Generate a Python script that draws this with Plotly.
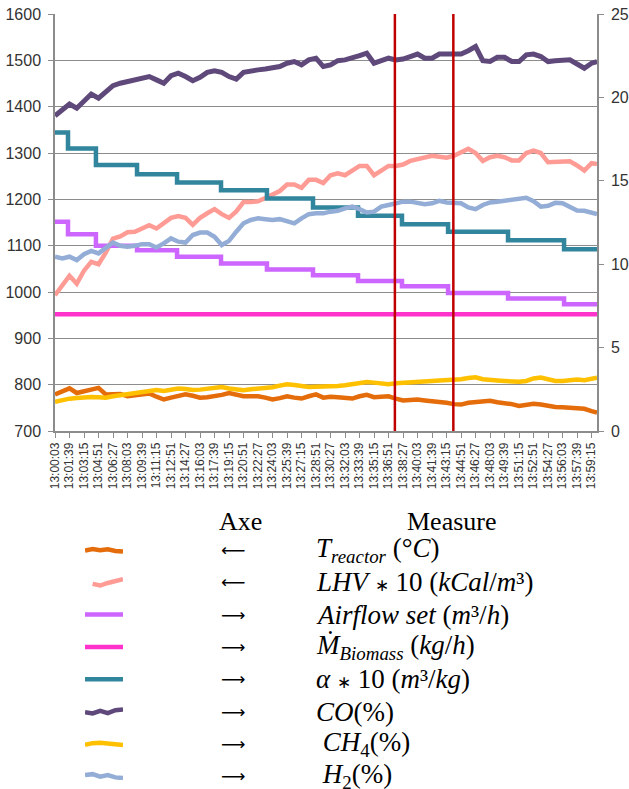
import plotly.graph_objects as go

# ---------------- data ----------------
tick_labels = ["13:00:03", "13:01:39", "13:03:15", "13:04:51", "13:06:27", "13:08:03", "13:09:39",
               "13:11:15", "13:12:51", "13:14:27", "13:16:03", "13:17:39", "13:19:15", "13:20:51",
               "13:22:27", "13:24:03", "13:25:39", "13:27:15", "13:28:51", "13:30:27", "13:32:03",
               "13:33:39", "13:35:15", "13:36:51", "13:38:27", "13:40:03", "13:41:39", "13:43:15",
               "13:44:51", "13:46:27", "13:48:03", "13:49:39", "13:51:15", "13:52:51", "13:54:27",
               "13:56:03", "13:57:39", "13:59:15"]
tick_step_s = 96
sample_times = list(range(0, 3553, 48)) + [3588]   # seconds after 13:00:03

t_reactor = [779, 786, 792, 782, 786, 790, 793, 779, 779, 780,
             775, 777, 780, 781, 774, 768, 772, 775, 779, 776,
             772, 773, 775, 778, 782, 778, 775, 775, 775, 772,
             768, 771, 775, 772, 770, 775, 779, 772, 774, 773,
             772, 770, 775, 778, 773, 774, 775, 770, 766, 767,
             768, 766, 765, 763, 761, 758, 757, 761, 762, 764,
             765, 762, 761, 758, 754, 757, 759, 757, 754, 752,
             751, 750, 750, 748, 743, 740]
lhv10 = [993, 1015, 1035, 1018, 1046, 1065, 1060, 1085, 1115, 1120,
         1129, 1130, 1138, 1144, 1137, 1150, 1160, 1164, 1160, 1145,
         1160, 1170, 1179, 1168, 1160, 1174, 1194, 1194, 1196, 1203,
         1210, 1218, 1232, 1232, 1225, 1242, 1242, 1235, 1252, 1256,
         1252, 1262, 1272, 1272, 1252, 1262, 1272, 1272, 1275, 1283,
         1286, 1290, 1294, 1292, 1290, 1294, 1302, 1309, 1300, 1283,
         1291, 1294, 1291, 1284, 1284, 1300, 1305, 1300, 1280, 1281,
         1282, 1282, 1273, 1262, 1278, 1276]
co = [18.9, 19.3, 19.6, 19.35, 19.8, 20.2, 19.95, 20.3, 20.7, 20.85,
      20.95, 21.0, 21.1, 21.25, 21.05, 20.85, 21.3, 21.45, 21.25, 21.0,
      21.2, 21.5, 21.6, 21.5, 21.25, 21.1, 21.5, 21.6, 21.65, 21.7,
      21.75, 21.85, 22.05, 22.15, 21.95, 22.25, 22.35, 21.85, 21.95, 22.2,
      22.25, 22.35, 22.5, 22.65, 22.05, 22.2, 22.35, 22.25, 22.3, 22.45,
      22.6, 22.35, 22.35, 22.6, 22.6, 22.55, 22.6, 22.8, 23.05, 22.2,
      22.15, 22.4, 22.4, 22.15, 22.15, 22.55, 22.6, 22.45, 22.15, 22.2,
      22.25, 22.25, 22.0, 21.75, 22.05, 22.15]
ch4 = [1.75, 1.85, 1.94, 1.98, 2.02, 2.04, 2.03, 2.0, 2.08, 2.15,
       2.22, 2.28, 2.36, 2.45, 2.46, 2.4, 2.48, 2.55, 2.52, 2.46,
       2.48, 2.55, 2.62, 2.64, 2.55, 2.47, 2.45, 2.5, 2.54, 2.56,
       2.62, 2.72, 2.8, 2.76, 2.68, 2.64, 2.66, 2.66, 2.64, 2.7,
       2.74, 2.8, 2.86, 2.93, 2.9, 2.84, 2.8, 2.86, 2.9, 2.93,
       2.94, 2.97, 3.0, 3.03, 3.04, 3.05, 3.1, 3.18, 3.22, 3.1,
       3.04, 3.03, 3.0, 2.98, 2.95, 3.0, 3.15, 3.2, 3.1, 3.0,
       3.0, 3.05, 3.08, 3.05, 3.12, 3.2]
h2 = [10.45, 10.35, 10.45, 10.25, 10.6, 10.8, 10.65, 10.95, 11.3, 11.1,
      11.05, 11.1, 11.2, 11.2, 11.0, 11.25, 11.55, 11.35, 11.3, 11.75,
      11.9, 11.9, 11.65, 11.15, 11.4, 11.95, 12.45, 12.65, 12.75, 12.7,
      12.65, 12.7, 12.6, 12.45, 12.75, 13.0, 13.05, 13.05, 13.15, 13.2,
      13.35, 13.45, 13.3, 13.1, 13.15, 13.45, 13.55, 13.65, 13.75, 13.75,
      13.65, 13.6, 13.65, 13.8, 13.7, 13.65, 13.65, 13.4, 13.3, 13.55,
      13.7, 13.75, 13.8, 13.82, 13.9, 13.98, 13.78, 13.45, 13.5, 13.68,
      13.65, 13.45, 13.22, 13.2, 13.1, 13.0]

step_times = [0, 86, 271, 543, 808, 1099, 1403, 1708, 2006, 2297, 2602, 2999, 3370, 3588]
airflow_set = [12.55, 11.8, 11.1, 10.84, 10.44, 10.04, 9.68, 9.34, 9.0, 8.68, 8.28, 7.94, 7.6, 7.6]
alpha10 = [17.9, 16.94, 15.94, 15.4, 14.9, 14.44, 13.94, 13.4, 12.9, 12.4, 11.94, 11.44, 10.9, 10.9]
biomass_times = [0, 3588]
biomass = [7.0, 7.0]

measure_window = [2250, 2637]

# legend table
AST = "<span style='font-size:17px'>∗</span>"
legend_labels = [
    "<i>T</i><sub><i>reactor</i></sub> (°<i>C</i>)",
    "<i>LHV</i> " + AST + " 10 (<i>kCal</i>/<i>m</i>³)",
    "<i>Airflow set</i> (<i>m</i>³/<i>h</i>)",
    "<i>Ṁ</i><sub><i>Biomass</i></sub> (<i>kg</i>/<i>h</i>)",
    "<i>α</i> " + AST + " 10 (<i>m</i>³/<i>kg</i>)",
    "<i>CO</i>(%)",
    " <i>CH</i><sub>4</sub>(%)",
    " <i>H</i><sub>2</sub>(%)",
]
legend_arrows = ["⟵", "⟵", "⟶", "⟶", "⟶", "⟶", "⟶", "⟶"]
swatch_x = [0, 0.2, 0.4, 0.6, 0.8, 1.0]
swatch_t = [0.02, -0.03, 0.01, -0.02, 0.03, 0.05]
swatch_lhv = [None, 0.05, 0.1, 0.02, -0.05, -0.1]
swatch_flat = [0, 0, 0, 0, 0, 0]
swatch_co = [0.02, 0.06, -0.02, 0.05, -0.04, -0.06]
swatch_ch4 = [0.03, -0.02, -0.03, 0.0, 0.02, 0.04]
swatch_h2 = [-0.03, -0.06, 0.02, -0.03, 0.04, 0.06]

# ---------------- styles ----------------
C_T = "#E46C0A"
C_LHV = "#FF9B95"
C_AIR = "#CC66FF"
C_BIO = "#FF33CC"
C_ALPHA = "#31859C"
C_CO = "#5F497A"
C_CH4 = "#FFC000"
C_H2 = "#93ADD6"
GRID = "#8C8C8C"

# page-pixel -> paper helpers (effective paper area: y 14..780)
PB, PH = 780.0, 766.0
def py(p):
    return (PB - p) / PH
def px(p):
    return (p - 55) / 542

fig = go.Figure()

def add_line(x, y, color, axis, width=4.5, shape="linear"):
    fig.add_trace(go.Scatter(x=x, y=y, mode="lines", yaxis=axis,
                             line=dict(color=color, width=width, shape=shape),
                             showlegend=False, hoverinfo="skip"))

add_line(sample_times, t_reactor, C_T, "y")
add_line(sample_times, lhv10, C_LHV, "y")
add_line(step_times, airflow_set, C_AIR, "y2", shape="hv")
add_line(biomass_times, biomass, C_BIO, "y2")
add_line(step_times, alpha10, C_ALPHA, "y2", shape="hv")
add_line(sample_times, co, C_CO, "y2", width=5)
add_line(sample_times, ch4, C_CH4, "y2")
add_line(sample_times, h2, C_H2, "y2")

for xv in measure_window:
    fig.add_shape(type="line", xref="x", yref="y domain", x0=xv, x1=xv, y0=0, y1=1,
                  line=dict(color="#C00000", width=2.5))

# legend swatches
swatch_sets = [(swatch_t, C_T), (swatch_lhv, C_LHV), (swatch_flat, C_AIR), (swatch_flat, C_BIO),
               (swatch_flat, C_ALPHA), (swatch_co, C_CO), (swatch_ch4, C_CH4), (swatch_h2, C_H2)]
for row, (wig, col) in enumerate(swatch_sets):
    ys = [None if w is None else row + w for w in wig]
    fig.add_trace(go.Scatter(x=swatch_x, y=ys, mode="lines", xaxis="x3", yaxis="y3",
                             line=dict(color=col, width=4.5), showlegend=False,
                             hoverinfo="skip", connectgaps=False))

tick_font = dict(family="Liberation Sans, Arial", size=16, color="#333333")
ann = []
ann.append(dict(x=px(240), y=py(521), xref="paper", yref="paper",
                text="Axe", showarrow=False, xanchor="center", yanchor="middle",
                font=dict(family="Liberation Serif, Times New Roman", size=26, color="black")))
ann.append(dict(x=px(452), y=py(521), xref="paper", yref="paper",
                text="Measure", showarrow=False, xanchor="center", yanchor="middle",
                font=dict(family="Liberation Serif, Times New Roman", size=26, color="black")))
for row, (arr, lab) in enumerate(zip(legend_arrows, legend_labels)):
    ann.append(dict(x=px(233), y=row, xref="paper", yref="y3", text=arr,
                    showarrow=False, xanchor="center", yanchor="middle",
                    font=dict(family="DejaVu Sans", size=17, color="black")))
    ann.append(dict(x=px(314), y=row, xref="paper", yref="y3", text=lab,
                    showarrow=False, xanchor="left", yanchor="middle",
                    font=dict(family="Liberation Serif, Times New Roman", size=27, color="black")))

# legend rows: row 0 at page y 550, spacing 32.3 px
row0, rowh = 550.0, 32.3
y3_top, y3_bot = 534.0, PB

fig.update_layout(
    width=629, height=789,
    margin=dict(l=55, r=32, t=14, b=0),
    plot_bgcolor="white", paper_bgcolor="white",
    xaxis=dict(domain=[0, 1], range=[0, 3588], anchor="y",
               tickvals=[i * tick_step_s for i in range(len(tick_labels))], ticktext=tick_labels,
               tickangle=-90, ticks="outside", ticklen=5, tickcolor=GRID, tickwidth=1.3,
               showline=True, linecolor=GRID, linewidth=1.5, showgrid=False, zeroline=False,
               tickfont=dict(family="Liberation Sans, Arial", size=12, color="#333333")),
    yaxis=dict(domain=[py(431), 1], range=[700, 1600], dtick=100, anchor="x",
               showgrid=True, gridcolor=GRID, gridwidth=1.4, zeroline=False,
               showline=True, linecolor=GRID, linewidth=1.5, ticks="outside", ticklen=5,
               tickcolor=GRID, tickfont=tick_font, ticklabelstandoff=4),
    yaxis2=dict(overlaying="y", side="right", range=[0, 25], dtick=5, anchor="x",
                showgrid=False, zeroline=False, showline=True, linecolor=GRID, linewidth=1.5,
                ticks="outside", ticklen=5, tickcolor=GRID, tickfont=tick_font,
                ticklabelstandoff=4),
    xaxis3=dict(domain=[px(85), px(123)], range=[0, 1], anchor="y3", visible=False),
    yaxis3=dict(domain=[py(y3_bot), py(y3_top)],
                range=[(y3_bot - row0) / rowh, (y3_top - row0) / rowh],
                anchor="x3", visible=False),
    annotations=ann,
)

fig.write_html(
    "out.html",
    config={"displayModeBar": False},
    post_script=("document.documentElement.style.margin='0px';"
                 "document.documentElement.style.overflow='hidden';"
                 "document.documentElement.style.height='789px';"
                 "document.body.style.margin='0px';"
                 "document.body.style.overflow='hidden';"
                 "document.body.style.height='789px';"),
)
